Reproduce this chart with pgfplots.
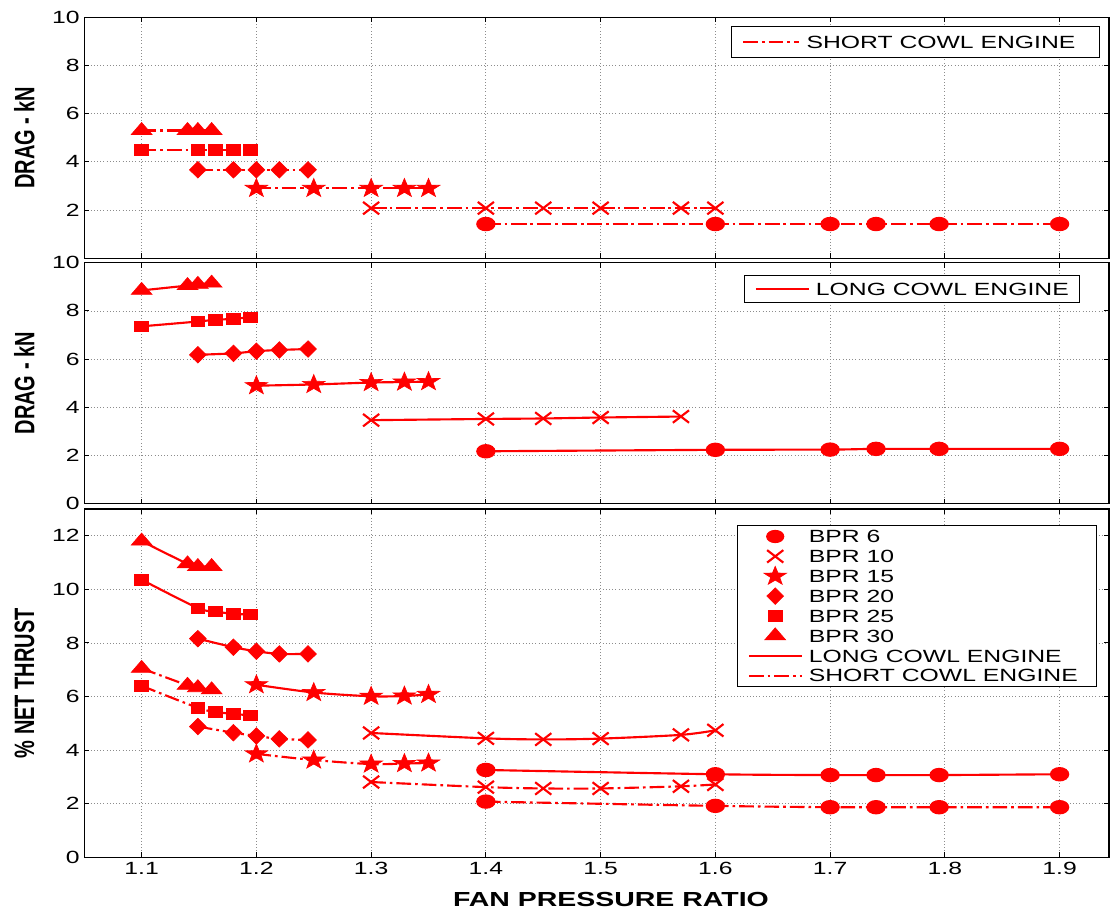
\documentclass[border=0pt]{standalone}
\usepackage{graphicx}
\usepackage{fontspec}
\setmainfont{Liberation Sans}[FakeStretch=1.4]
\newfontfamily\plainfont{Liberation Sans}
\usepackage{pgfplots}
\pgfplotsset{compat=1.18}
\usetikzlibrary{plotmarks}

\pgfdeclareplotmark{fstar}{%
  \pgfpathmoveto{\pgfpointpolar{90}{\pgfplotmarksize}}%
  \pgfpathlineto{\pgfpointpolar{126}{0.4\pgfplotmarksize}}%
  \pgfpathlineto{\pgfpointpolar{162}{\pgfplotmarksize}}%
  \pgfpathlineto{\pgfpointpolar{198}{0.4\pgfplotmarksize}}%
  \pgfpathlineto{\pgfpointpolar{234}{\pgfplotmarksize}}%
  \pgfpathlineto{\pgfpointpolar{270}{0.4\pgfplotmarksize}}%
  \pgfpathlineto{\pgfpointpolar{306}{\pgfplotmarksize}}%
  \pgfpathlineto{\pgfpointpolar{342}{0.4\pgfplotmarksize}}%
  \pgfpathlineto{\pgfpointpolar{18}{\pgfplotmarksize}}%
  \pgfpathlineto{\pgfpointpolar{54}{0.4\pgfplotmarksize}}%
  \pgfpathclose\pgfusepathqfillstroke}

\newcommand\ylab[1]{\scalebox{1}[1.4]{\plainfont\bfseries\fontsize{15}{15}\selectfont #1}}

\pgfplotsset{
  base/.style={
    scale only axis, width=768.5pt, anchor=south west,
    xmin=1.05, xmax=1.943,
    xtick={1.1,1.2,1.3,1.4,1.5,1.6,1.7,1.8,1.9},
    grid=major, grid style={dotted, line width=0.6pt, black!45},
    axis line style={line width=0.9pt},
    tick style={black, line width=0.7pt},
    major tick length=3.75pt, tick align=inside,
    xtick pos=both, ytick pos=both,
    /pgf/number format/assume math mode=true,
    tick label style={font=\fontsize{13.25}{14}\selectfont},
    ylabel style={at={(axis description cs:-0.0584,0.5)}, anchor=center},
    legend cell align=left,
  },
  lg/.style={legend style={font=\fontsize{13.25}{14}\selectfont, draw=black, line width=0.75pt,
      inner xsep=8pt,
      nodes={inner sep=0pt, text height=12.2pt, text depth=2.7pt},
      cells={anchor=west},
      /tikz/every odd column/.append style={column sep=4.7pt}}},
  lineimg/.style={legend image code/.code={\draw[##1] (0pt,0pt) -- (#1,0pt);}},
  markimg/.style={legend image code/.code={\draw[##1] plot coordinates {(19.75pt,0pt)};}},
  ln/.style={red, line width=1.6pt, smooth},
  dd/.style={dash pattern=on 11pt off 3pt on 2pt off 3pt},
  b6/.style={mark=*, mark size=4.6pt, mark options={solid, xscale=1.4}},
  b10/.style={mark=x, mark size=6.6pt, mark options={solid, xscale=1.3, line width=1.6pt}},
  b15/.style={mark=fstar, mark size=7.4pt, mark options={solid, xscale=1.2, line width=0.5pt}},
  b20/.style={mark=diamond*, mark size=6.2pt, mark options={solid, xscale=1.35, line width=0.5pt}},
  b25/.style={mark=square*, mark size=3.9pt, mark options={solid, xscale=1.33, line width=0.5pt}},
  b30/.style={mark=triangle*, mark size=6pt, mark options={solid, xscale=1.5, line width=0.5pt}},
}

\begin{document}
\begin{tikzpicture}
\path[use as bounding box] (0,0) rectangle (834pt,682.5pt);

% ---------- top: short cowl drag
\begin{axis}[base, lg, at={(63.2pt,488.8pt)}, height=180.75pt,
  ymin=0, ymax=10, ytick={0,2,4,6,8,10}, yticklabels={,2,4,6,8,10},
  xticklabels={},
  ylabel={\ylab{DRAG - kN}},
  legend style={at={(rel axis cs:1,1)}, anchor=north east, xshift=-6.75pt, yshift=-6.3pt, inner ysep=4.4pt}]
\addlegendimage{red, line width=1.6pt, dd, lineimg=42pt}
\addlegendentry{SHORT COWL ENGINE\hspace*{10pt}}
\addplot[ln, dd, b30, forget plot] coordinates {(1.1,5.3)(1.14,5.3)(1.149,5.3)(1.161,5.3)};
\addplot[ln, dd, b25, forget plot] coordinates {(1.1,4.5)(1.149,4.5)(1.164,4.5)(1.18,4.5)(1.195,4.5)};
\addplot[ln, dd, b20, forget plot] coordinates {(1.149,3.67)(1.18,3.67)(1.2,3.67)(1.22,3.67)(1.245,3.67)};
\addplot[ln, dd, b15, forget plot] coordinates {(1.2,2.9)(1.25,2.9)(1.3,2.9)(1.329,2.9)(1.35,2.9)};
\addplot[ln, dd, b10, forget plot] coordinates {(1.3,2.08)(1.4,2.08)(1.45,2.08)(1.5,2.08)(1.57,2.08)(1.6,2.08)};
\addplot[ln, dd, b6, forget plot] coordinates {(1.4,1.42)(1.6,1.42)(1.7,1.42)(1.74,1.42)(1.795,1.42)(1.9,1.42)};
\end{axis}

% ---------- middle: long cowl drag
\begin{axis}[base, lg, at={(63.2pt,304.6pt)}, height=180.9pt,
  ymin=0, ymax=10, ytick={0,2,4,6,8,10},
  xticklabels={},
  ylabel={\ylab{DRAG - kN}},
  legend style={at={(rel axis cs:1,1)}, anchor=north east, xshift=-21.75pt, yshift=-9.2pt, inner ysep=2.55pt}]
\addlegendimage{red, line width=1.6pt, lineimg=39.5pt}
\addlegendentry{LONG COWL ENGINE}
\addplot[ln, b30, forget plot] coordinates {(1.1,8.85)(1.14,9.05)(1.149,9.1)(1.161,9.15)};
\addplot[ln, b25, forget plot] coordinates {(1.1,7.36)(1.149,7.56)(1.164,7.63)(1.18,7.67)(1.195,7.74)};
\addplot[ln, b20, forget plot] coordinates {(1.149,6.18)(1.18,6.24)(1.2,6.33)(1.22,6.38)(1.245,6.42)};
\addplot[ln, b15, forget plot] coordinates {(1.2,4.9)(1.25,4.95)(1.3,5.03)(1.329,5.05)(1.35,5.07)};
\addplot[ln, b10, forget plot] coordinates {(1.3,3.47)(1.4,3.52)(1.45,3.54)(1.5,3.58)(1.57,3.62)};
\addplot[ln, b6, forget plot] coordinates {(1.4,2.18)(1.6,2.24)(1.7,2.25)(1.74,2.28)(1.795,2.28)(1.9,2.28)};
\end{axis}

% ---------- bottom: % net thrust
\begin{axis}[base, lg, at={(63.2pt,39.5pt)}, height=261.3pt,
  ymin=0, ymax=13, ytick={0,2,4,6,8,10,12},
  xticklabels={1.1,1.2,1.3,1.4,1.5,1.6,1.7,1.8,1.9},
  ylabel={\ylab{\% NET THRUST}},
  xlabel={\bfseries\fontsize{15.25}{16}\selectfont FAN PRESSURE RATIO},
  xlabel style={at={(axis description cs:0.514,-0.1203)}, anchor=center},
  legend style={at={(rel axis cs:1,1)}, anchor=north east, xshift=-9pt, yshift=-11.8pt, inner ysep=1.05pt}]
\addplot[ln, b30, forget plot] coordinates {(1.1,11.8)(1.14,10.95)(1.149,10.85)(1.161,10.85)};
\addplot[ln, b25, forget plot] coordinates {(1.1,10.36)(1.149,9.3)(1.164,9.18)(1.18,9.08)(1.195,9.07)};
\addplot[ln, b20, forget plot] coordinates {(1.149,8.16)(1.18,7.84)(1.2,7.69)(1.22,7.59)(1.245,7.59)};
\addplot[ln, b15, forget plot] coordinates {(1.2,6.44)(1.25,6.15)(1.3,6.01)(1.329,6.02)(1.35,6.08)};
\addplot[ln, b10, forget plot] coordinates {(1.3,4.64)(1.4,4.44)(1.45,4.4)(1.5,4.43)(1.57,4.57)(1.6,4.74)};
\addplot[ln, b6, forget plot] coordinates {(1.4,3.26)(1.6,3.1)(1.7,3.07)(1.74,3.07)(1.795,3.07)(1.9,3.1)};
\addplot[ln, dd, b30, forget plot] coordinates {(1.1,7.05)(1.14,6.42)(1.149,6.33)(1.161,6.25)};
\addplot[ln, dd, b25, forget plot] coordinates {(1.1,6.4)(1.149,5.58)(1.164,5.43)(1.18,5.35)(1.195,5.3)};
\addplot[ln, dd, b20, forget plot] coordinates {(1.149,4.88)(1.18,4.65)(1.2,4.53)(1.22,4.42)(1.245,4.38)};
\addplot[ln, dd, b15, forget plot] coordinates {(1.2,3.86)(1.25,3.63)(1.3,3.48)(1.329,3.5)(1.35,3.52)};
\addplot[ln, dd, b10, forget plot] coordinates {(1.3,2.81)(1.4,2.62)(1.45,2.57)(1.5,2.57)(1.57,2.65)(1.6,2.72)};
\addplot[ln, dd, b6, forget plot] coordinates {(1.4,2.08)(1.6,1.92)(1.7,1.87)(1.74,1.87)(1.795,1.87)(1.9,1.87)};
\addlegendimage{red, only marks, b6, markimg}
\addlegendentry{BPR 6}
\addlegendimage{red, only marks, b10, markimg}
\addlegendentry{BPR 10}
\addlegendimage{red, only marks, b15, markimg}
\addlegendentry{BPR 15}
\addlegendimage{red, only marks, b20, markimg}
\addlegendentry{BPR 20}
\addlegendimage{red, only marks, b25, markimg}
\addlegendentry{BPR 25}
\addlegendimage{red, only marks, b30, markimg}
\addlegendentry{BPR 30}
\addlegendimage{red, line width=1.6pt, lineimg=39.5pt}
\addlegendentry{LONG COWL ENGINE}
\addlegendimage{red, line width=1.6pt, dd, lineimg=39.5pt}
\addlegendentry{SHORT COWL ENGINE\hspace*{6pt}}
\end{axis}
\end{tikzpicture}
\end{document}
